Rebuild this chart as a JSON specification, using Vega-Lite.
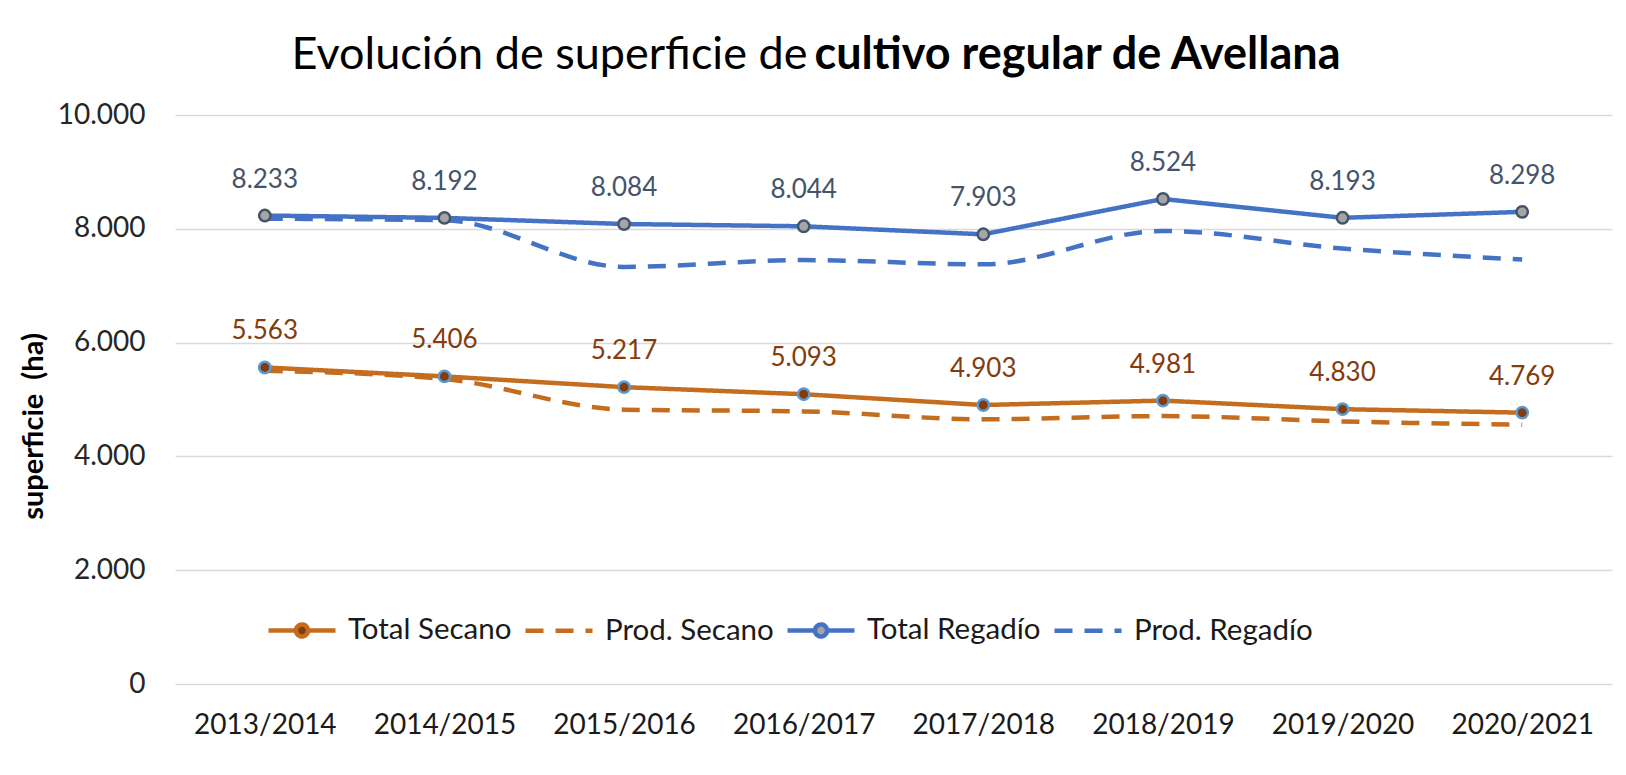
{
  "$schema": "https://vega.github.io/schema/vega-lite/v6.json",
  "width": 1437,
  "height": 569,
  "autosize": {"type": "none"},
  "padding": {"left": 175, "top": 115, "right": 14, "bottom": 91},
  "background": "white",
  "config": {
    "locale": {"number": {"decimal": ",", "thousands": ".", "grouping": [3], "currency": ["", " €"]}},
    "view": {"stroke": null},
    "font": "Lato",
    "axisY": {"titleFontSize": 29}
  },
  "data": {
    "values": [
      {"campana": "2013/2014", "serie": "Total Secano", "valor": 5563},
      {"campana": "2014/2015", "serie": "Total Secano", "valor": 5406},
      {"campana": "2015/2016", "serie": "Total Secano", "valor": 5217},
      {"campana": "2016/2017", "serie": "Total Secano", "valor": 5093},
      {"campana": "2017/2018", "serie": "Total Secano", "valor": 4903},
      {"campana": "2018/2019", "serie": "Total Secano", "valor": 4981},
      {"campana": "2019/2020", "serie": "Total Secano", "valor": 4830},
      {"campana": "2020/2021", "serie": "Total Secano", "valor": 4769},
      {"campana": "2013/2014", "serie": "Prod. Secano", "valor": 5505},
      {"campana": "2014/2015", "serie": "Prod. Secano", "valor": 5360},
      {"campana": "2015/2016", "serie": "Prod. Secano", "valor": 4822},
      {"campana": "2016/2017", "serie": "Prod. Secano", "valor": 4791},
      {"campana": "2017/2018", "serie": "Prod. Secano", "valor": 4653},
      {"campana": "2018/2019", "serie": "Prod. Secano", "valor": 4708},
      {"campana": "2019/2020", "serie": "Prod. Secano", "valor": 4615},
      {"campana": "2020/2021", "serie": "Prod. Secano", "valor": 4555},
      {"campana": "2013/2014", "serie": "Total Regadío", "valor": 8233},
      {"campana": "2014/2015", "serie": "Total Regadío", "valor": 8192},
      {"campana": "2015/2016", "serie": "Total Regadío", "valor": 8084},
      {"campana": "2016/2017", "serie": "Total Regadío", "valor": 8044},
      {"campana": "2017/2018", "serie": "Total Regadío", "valor": 7903},
      {"campana": "2018/2019", "serie": "Total Regadío", "valor": 8524},
      {"campana": "2019/2020", "serie": "Total Regadío", "valor": 8193},
      {"campana": "2020/2021", "serie": "Total Regadío", "valor": 8298},
      {"campana": "2013/2014", "serie": "Prod. Regadío", "valor": 8177},
      {"campana": "2014/2015", "serie": "Prod. Regadío", "valor": 8150},
      {"campana": "2015/2016", "serie": "Prod. Regadío", "valor": 7330},
      {"campana": "2016/2017", "serie": "Prod. Regadío", "valor": 7450},
      {"campana": "2017/2018", "serie": "Prod. Regadío", "valor": 7375},
      {"campana": "2018/2019", "serie": "Prod. Regadío", "valor": 7963},
      {"campana": "2019/2020", "serie": "Prod. Regadío", "valor": 7654},
      {"campana": "2020/2021", "serie": "Prod. Regadío", "valor": 7460}
    ]
  },
  "resolve": {"axis": {"x": "independent", "y": "independent"}},
  "layer": [
    {
      "transform": [{"filter": "indexof(datum.serie, 'Prod') == 0"}],
      "mark": {"type": "line", "strokeWidth": 4.5, "interpolate": "monotone"},
      "encoding": {
        "x": {"field": "campana", "type": "nominal", "sort": null,
          "scale": {"type": "point", "padding": 0.5},
          "axis": {"orient": "bottom", "domain": false, "ticks": false, "tickSize": 0, "grid": false,
            "labelAngle": 0, "labelFont": "Lato", "labelFontSize": 28, "labelColor": "#1a1a1a",
            "labelBaseline": "middle", "labelPadding": 41,
            "title": "cultivo regular de Avellana", "titleFont": "Lato", "titleFontSize": 45, "titleFontWeight": "bold",
            "titleColor": "#000000", "titleX": 1165, "titleY": -616, "titleAlign": "right", "titleBaseline": "alphabetic", "titleLimit": 2000}},
        "y": {"field": "valor", "type": "quantitative",
          "scale": {"domain": [0, 10000], "nice": false},
          "axis": {"orient": "left", "values": [0, 2000, 4000, 6000, 8000, 10000], "format": ",d",
            "domain": false, "ticks": false, "tickSize": 0, "grid": true, "gridColor": "#D9D9D9", "gridWidth": 1.3,
            "labelFont": "Lato", "labelFontSize": 28, "labelColor": "#262626", "labelPadding": 30,
            "title": "superficie\u00a0 (ha)", "titleFont": "Lato", "titleFontSize": 29, "titleFontWeight": "bold",
            "titleColor": "#000000", "titleX": -142, "titleY": 311, "titleAlign": "center", "titleBaseline": "middle", "titleLimit": 1000}},
        "color": {"field": "serie", "type": "nominal",
          "scale": {"domain": ["Total Secano", "Prod. Secano", "Total Regadío", "Prod. Regadío"],
            "range": ["#C46D1E", "#C46D1E", "#4472C4", "#4472C4"]},
          "legend": {"title": null, "orient": "none", "legendX": 91, "legendY": 479, "direction": "horizontal",
            "columns": 4, "padding": 0, "labelFont": "Lato", "labelFontSize": 29.5, "labelColor": "#1a1a1a",
            "labelOffset": 10, "columnPadding": 4, "symbolSize": 4489, "symbolStrokeWidth": 4.5, "labelLimit": 400,
            "symbolType": "stroke",
            "encode": {"symbols": {"update": {
              "shape": {"signal": "indexof(datum.value, 'Total') == 0 ? 'M-1,0H-0.18M0.18,0H1M0.18,0A0.18,0.18,0,1,1,-0.18,0A0.18,0.18,0,1,1,0.18,0' : 'stroke'"},
              "fill": {"signal": "datum.value == 'Total Secano' ? '#843C0C' : datum.value == 'Total Regadío' ? '#A5A5A5' : 'transparent'"}
            }}}}},
        "strokeDash": {"field": "serie", "type": "nominal",
          "scale": {"domain": ["Total Secano", "Prod. Secano", "Total Regadío", "Prod. Regadío"],
            "range": [[1, 0], [18, 12], [1, 0], [18, 12]]}}
      }
    },
    {
      "transform": [{"filter": "indexof(datum.serie, 'Total') == 0"}],
      "mark": {"type": "line", "strokeWidth": 4.5, "interpolate": "linear"},
      "encoding": {
        "x": {"field": "campana", "type": "nominal", "sort": null, "axis": null},
        "y": {"field": "valor", "type": "quantitative", "axis": null},
        "color": {"field": "serie", "type": "nominal",
          "legend": {"title": null, "orient": "none", "legendX": 91, "legendY": 479, "direction": "horizontal",
            "columns": 4, "padding": 0, "labelFont": "Lato", "labelFontSize": 29.5, "labelColor": "#1a1a1a",
            "labelOffset": 10, "columnPadding": 4, "symbolSize": 4489, "symbolStrokeWidth": 4.5, "labelLimit": 400,
            "symbolType": "stroke",
            "encode": {"symbols": {"update": {
              "shape": {"signal": "indexof(datum.value, 'Total') == 0 ? 'M-1,0H-0.18M0.18,0H1M0.18,0A0.18,0.18,0,1,1,-0.18,0A0.18,0.18,0,1,1,0.18,0' : 'stroke'"},
              "fill": {"signal": "datum.value == 'Total Secano' ? '#843C0C' : datum.value == 'Total Regadío' ? '#A5A5A5' : 'transparent'"}
            }}}}},
        "strokeDash": {"field": "serie", "type": "nominal"}
      }
    },
    {
      "transform": [{"filter": "datum.serie == 'Total Secano'"}],
      "mark": {"type": "point", "filled": true, "fill": "#843C0C", "stroke": "#5B9BD5", "strokeWidth": 2.5, "size": 130, "opacity": 1},
      "encoding": {
        "x": {"field": "campana", "type": "nominal", "sort": null,
          "axis": {"orient": "top", "labels": false, "ticks": false, "domain": false, "grid": false,
            "title": "Evolución de superficie de", "titleFont": "Lato", "titleFontSize": 45, "titleFontWeight": "normal",
            "titleColor": "#000000", "titleX": 116, "titleY": -47, "titleAlign": "left", "titleBaseline": "alphabetic"}},
        "y": {"field": "valor", "type": "quantitative", "axis": null}
      }
    },
    {
      "transform": [{"filter": "datum.serie == 'Total Regadío'"}],
      "mark": {"type": "point", "filled": true, "fill": "#A5A5A5", "stroke": "#44546A", "strokeWidth": 2.5, "size": 130, "opacity": 1},
      "encoding": {
        "x": {"field": "campana", "type": "nominal", "sort": null, "axis": null},
        "y": {"field": "valor", "type": "quantitative", "axis": null}
      }
    },
    {
      "transform": [{"filter": "datum.serie == 'Total Secano'"}],
      "mark": {"type": "text", "dy": -36, "baseline": "middle", "font": "Lato", "fontSize": 26, "color": "#843C0C"},
      "encoding": {
        "x": {"field": "campana", "type": "nominal", "sort": null, "axis": null},
        "y": {"field": "valor", "type": "quantitative", "axis": null},
        "text": {"field": "valor", "type": "quantitative", "format": ",d"}
      }
    },
    {
      "transform": [{"filter": "datum.serie == 'Total Regadío'"}],
      "mark": {"type": "text", "dy": -36, "baseline": "middle", "font": "Lato", "fontSize": 26, "color": "#44546A"},
      "encoding": {
        "x": {"field": "campana", "type": "nominal", "sort": null, "axis": null},
        "y": {"field": "valor", "type": "quantitative", "axis": null},
        "text": {"field": "valor", "type": "quantitative", "format": ",d"}
      }
    }
  ]
}
